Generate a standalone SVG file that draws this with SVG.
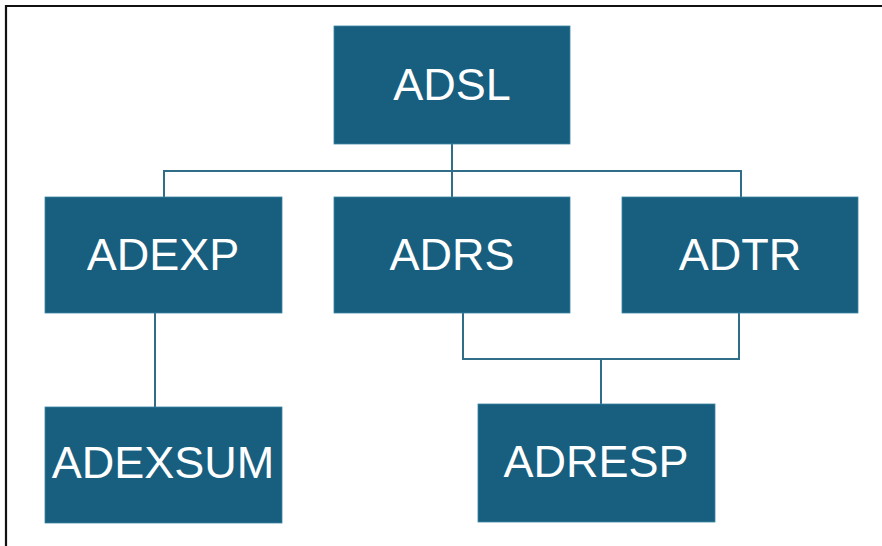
<svg xmlns="http://www.w3.org/2000/svg" width="882" height="546" viewBox="0 0 882 546">
<style>
.box{fill:#175e7f;stroke:#3d86a3;stroke-width:0.8}
.lbl{fill:#ffffff;font-family:"Liberation Sans",Arial,sans-serif;font-size:45px;text-anchor:middle}
.con{fill:none;stroke:#2f6d88;stroke-width:2}
</style>
<rect width="882" height="546" fill="#ffffff"/>
<path d="M6,546 V6 H882" fill="none" stroke="#111111" stroke-width="2.2"/>
<g id="connectors">
<path class="con" d="M452,144 V197"/>
<path class="con" d="M164,197 V171 H741 V197"/>
<path class="con" d="M155,313 V407"/>
<path class="con" d="M463,313 V359 H739 V313"/>
<path class="con" d="M601,359 V404"/>
</g>
<g id="ADSL"><rect class="box" x="334" y="26" width="236" height="118"/><text class="lbl" x="452" y="100">ADSL</text></g>
<g id="ADEXP"><rect class="box" x="45" y="197" width="237" height="116"/><text class="lbl" x="163" y="270">ADEXP</text></g>
<g id="ADRS"><rect class="box" x="334" y="197" width="236" height="116"/><text class="lbl" x="452" y="270">ADRS</text></g>
<g id="ADTR"><rect class="box" x="622" y="197" width="236" height="116"/><text class="lbl" x="740" y="270">ADTR</text></g>
<g id="ADEXSUM"><rect class="box" x="45" y="407" width="237" height="116"/><text class="lbl" x="163" y="478">ADEXSUM</text></g>
<g id="ADRESP"><rect class="box" x="478" y="404" width="237" height="118"/><text class="lbl" x="596" y="477">ADRESP</text></g>
</svg>
